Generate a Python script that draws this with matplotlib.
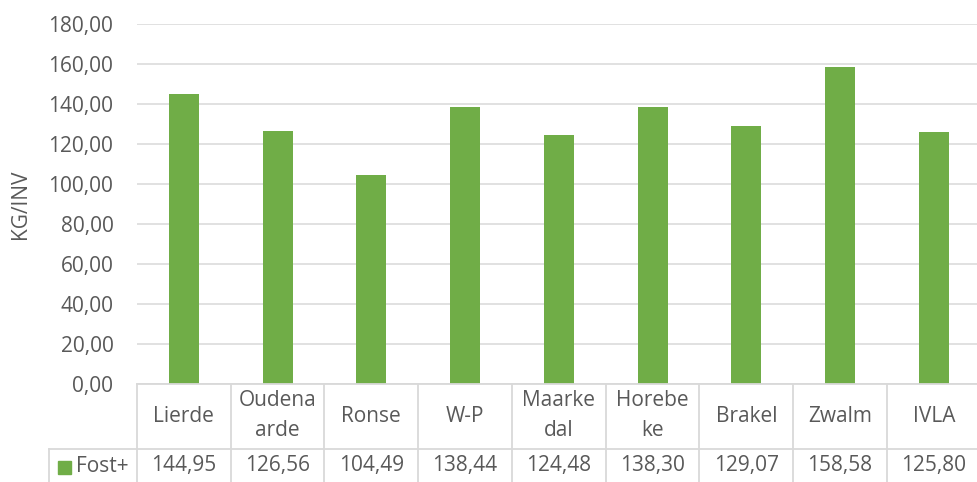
import matplotlib
matplotlib.use("Agg")
import matplotlib.pyplot as plt
from matplotlib.transforms import blended_transform_factory
from matplotlib.patches import Rectangle

categories = ["Lierde", "Oudena\narde", "Ronse", "W-P", "Maarke\ndal", "Horebe\nke", "Brakel", "Zwalm", "IVLA"]
values = [144.95, 126.56, 104.49, 138.44, 124.48, 138.30, 129.07, 158.58, 125.80]
series_name = "Fost+"
y_label = "KG/INV"
y_ticks = [0, 20, 40, 60, 80, 100, 120, 140, 160, 180]

W, H = 978, 482
GREEN = "#70AD47"
GRID = "#D9D9D9"
TXT = "#595959"
FONT = "Open Sans"
FS = 15

plt.rcParams['font.family'] = [FONT, 'DejaVu Sans']

fig = plt.figure(figsize=(W / 100, H / 100), dpi=100)
left, right, top, bottom = 137, 980.75, 24, 384
ax = fig.add_axes([left / W, (H - bottom) / H, (right - left) / W, (bottom - top) / H])

n = len(categories)
x = list(range(n))
ax.bar(x, values, width=0.32, color=GREEN, zorder=3)
ax.set_xlim(-0.5, n - 0.5)
ax.set_ylim(0, 180)
ax.set_yticks(y_ticks)
ax.set_yticklabels([f"{t:.2f}".replace(".", ",") for t in y_ticks], fontsize=FS, color=TXT)
ax.tick_params(axis='y', length=0, pad=17)
ax.set_xticks([])
ax.grid(axis='y', color=GRID, linewidth=1.1, zorder=0)
for s in ["top", "right", "left"]:
    ax.spines[s].set_visible(False)
ax.spines["bottom"].set_color(GRID)
ax.spines["bottom"].set_linewidth(1.3)
ax.spines["bottom"].set_zorder(4)

fig.text(21 / W, (H - 204) / H, y_label, rotation=90, ha='center', va='center',
         fontsize=FS, color=TXT)

tr = blended_transform_factory(ax.transData, fig.transFigure)
fy = lambda p: (H - p) / H

# table lines
for i in range(n + 1):
    xb = i - 0.5
    ax.plot([xb, xb], [fy(384), fy(482)], transform=tr, color=GRID, lw=1.3, clip_on=False)
ax.plot([-0.5, n - 0.5], [fy(449), fy(449)], transform=tr, color=GRID, lw=1.3, clip_on=False)
fig.add_artist(plt.Line2D([49.5 / W, left / W], [fy(449), fy(449)], color=GRID, lw=1.3))
fig.add_artist(plt.Line2D([49.5 / W, 49.5 / W], [fy(449), fy(482)], color=GRID, lw=1.3))

# category labels
for i, c in enumerate(categories):
    lines = c.split("\n")
    if len(lines) == 1:
        ax.text(i, fy(417), lines[0], transform=tr, ha='center', va='center', fontsize=FS, color=TXT)
    else:
        ax.text(i, fy(401), lines[0], transform=tr, ha='center', va='center', fontsize=FS, color=TXT)
        ax.text(i, fy(431), lines[1], transform=tr, ha='center', va='center', fontsize=FS, color=TXT)

# values row
for i, v in enumerate(values):
    ax.text(i, fy(466), f"{v:.2f}".replace(".", ","), transform=tr, ha='center', va='center',
            fontsize=FS, color=TXT)

fig.add_artist(Rectangle((58 / W, fy(474)), 13 / W, 13 / H, color=GREEN, transform=fig.transFigure))
fig.text(76 / W, fy(466), series_name, ha='left', va='center', fontsize=FS, color=TXT)

fig.savefig("out.png", dpi=100)
